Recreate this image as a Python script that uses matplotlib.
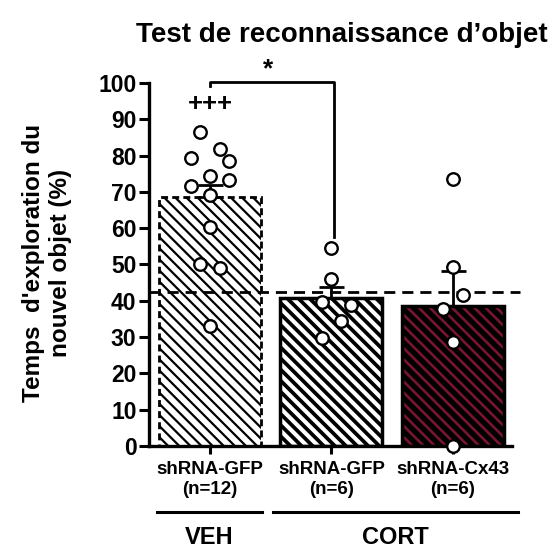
import matplotlib
matplotlib.use("Agg")
import matplotlib.pyplot as plt
from matplotlib.lines import Line2D

plt.rcParams['font.family'] = ['Liberation Sans', 'DejaVu Sans']
plt.rcParams['font.weight'] = 'bold'

# Data
groups = ["shRNA-GFP\n(n=12)", "shRNA-GFP\n(n=6)", "shRNA-Cx43\n(n=6)"]
means = [68.7, 40.8, 38.6]
sems = [3.1, 3.1, 9.7]
veh_gfp = [86.6, 79.4, 81.7, 78.5, 74.4, 71.6, 73.3, 69.1, 60.2, 50.0, 49.1, 33.1]
cort_gfp = [54.6, 46.0, 39.6, 38.7, 34.5, 29.7]
cort_cx43 = [73.5, 49.4, 41.6, 37.7, 28.7, 0.1]
chance_level = 42.3
yticks = list(range(0, 101, 10))

# horizontal jitter of individual animals (in bar-width units)
veh_jit = [-0.08, -0.16, 0.08, 0.16, 0.0, -0.16, 0.16, 0.0, 0.0, -0.08, 0.08, 0.0]
gfp_jit = [0.0, 0.0, -0.08, 0.16, 0.08, -0.08]
cx_jit = [0.0, 0.0, 0.08, -0.08, 0.0, 0.0]

fig = plt.figure(figsize=(5.55, 5.51), dpi=100)
ax = fig.add_axes([0.2685, 0.1906, 0.654, 0.6588])

x = [0, 1, 2]
w = 0.84
hatch = '\\\\\\'

# Bar 1: white, black hatch, dashed outline
b1 = ax.bar(x[0], means[0], width=w, facecolor='white', edgecolor='black',
            hatch=hatch, linewidth=0, zorder=2)
ax.bar(x[0], means[0], width=w, facecolor='none', edgecolor='black',
       linewidth=2.0, linestyle=(0, (2.5, 1.5)), zorder=3)
# Bar 2: black hatch, solid outline
b2 = ax.bar(x[1], means[1], width=w, facecolor='white', edgecolor='black',
            hatch=hatch, linewidth=0, zorder=2)
ax.bar(x[1], means[1], width=w, facecolor='none', edgecolor='black',
       linewidth=2.5, zorder=3)
# Bar 3: black with dark red stripes
b3 = ax.bar(x[2], means[2], width=w, facecolor='black', edgecolor='#7a1530',
            hatch=hatch, linewidth=0, zorder=2)
ax.bar(x[2], means[2], width=w, facecolor='none', edgecolor='black',
       linewidth=2.5, zorder=3)

for bars, lw in ((b1, 1.6), (b2, 2.7), (b3, 1.9)):
    for p in bars:
        try:
            p.set_hatch_linewidth(lw)
        except AttributeError:
            pass

# Upper SEM error bars
ax.errorbar(x, means, yerr=[[0, 0, 0], sems], fmt='none', ecolor='black',
            elinewidth=2.0, capsize=9, capthick=2.0, zorder=4)

# Chance level dashed line
ax.plot([-0.5, 2.55], [chance_level, chance_level], color='black', lw=2.0,
        linestyle=(0, (4, 2.5)), clip_on=False, zorder=4)

# Individual points
for xi, vals, jit in ((0, veh_gfp, veh_jit), (1, cort_gfp, gfp_jit), (2, cort_cx43, cx_jit)):
    ax.plot([xi + j for j in jit], vals, linestyle='none', marker='o', ms=9,
            mfc='white', mec='black', mew=1.7, clip_on=False, zorder=5)

# Significance bracket
ax.plot([0, 0, 1.02, 1.02], [99.3, 100.4, 100.4, 57.6], color='black', lw=2.0,
        clip_on=False, zorder=4)
ax.text(0.48, 100.5, '*', ha='center', va='bottom', fontsize=19, fontweight='bold')
ax.text(0, 94.2, '+++', ha='center', va='center', fontsize=18.5, fontweight='bold')

ax.set_xlim(-0.502, 2.486)
ax.set_ylim(0, 100)
ax.set_yticks(yticks)
ax.set_yticklabels([str(t) for t in yticks], fontsize=16.5, fontweight='bold')
ax.set_xticks(x)
ax.set_xticklabels(groups, fontsize=13.5, fontweight='bold', linespacing=1.2)
ax.tick_params(axis='y', length=7, width=2.2, pad=2)
ax.tick_params(axis='x', length=6, width=2.2, pad=5)
for s in ('top', 'right'):
    ax.spines[s].set_visible(False)
for s in ('left', 'bottom'):
    ax.spines[s].set_linewidth(2.4)

# Title and y label
fig.text(0.615, 0.936, "Test de reconnaissance d\u2019objet", ha='center', va='center',
         fontsize=20, fontweight='bold')
fig.text(0.085, 0.523, "Temps  d'exploration du\nnouvel objet (%)", ha='center',
         va='center', rotation=90, fontsize=17.5, fontweight='bold', linespacing=1.2)

# Treatment groups below the axis
H = 551.0
W = 555.0
for x0, x1, label in ((157, 262, 'VEH'), (273, 518, 'CORT')):
    fig.add_artist(Line2D([x0 / W, x1 / W], [1 - 512 / H, 1 - 512 / H],
                          color='black', lw=2.2))
    fig.text((x0 + x1) / 2 / W, 1 - 537 / H, label, ha='center', va='center',
             fontsize=17, fontweight='bold')

fig.savefig('out.png', dpi=100)
